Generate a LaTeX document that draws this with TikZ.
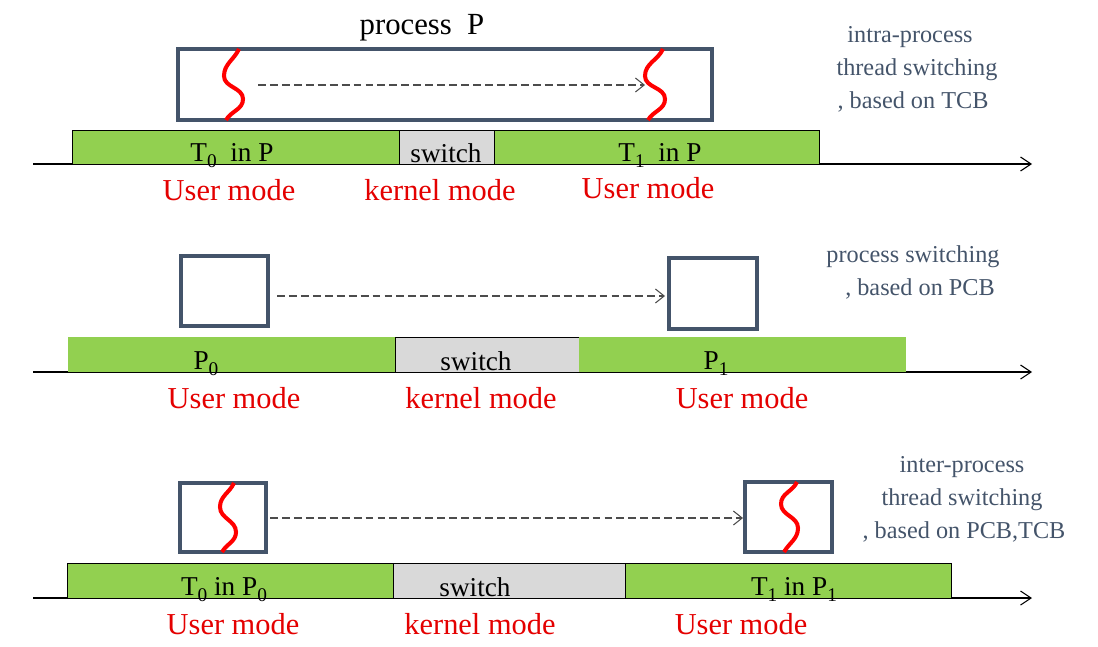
\documentclass[tikz,border=0pt]{standalone}
\usepackage{fontspec}
\setmainfont{Liberation Serif}
\usetikzlibrary{arrows.meta,fit}
\definecolor{slate}{RGB}{68,84,106}
\definecolor{barg}{RGB}{146,208,80}
\definecolor{swg}{RGB}{217,217,217}
\definecolor{redt}{RGB}{228,0,0}
\newcommand\lowsub[1]{\raisebox{-0.55ex}{\fontsize{11}{12}\selectfont #1}}
\begin{document}
\begin{tikzpicture}[x=0.02cm,y=-0.02cm,
 pbox/.style={draw=slate,line width=2.3pt,inner sep=0pt},
 ubar/.style={fill=barg,draw=black,line width=0.4pt,inner sep=0pt},
 ubarplain/.style={fill=barg,inner sep=0pt},
 sbar/.style={fill=swg,draw=black,line width=0.4pt,inner sep=0pt},
 bartxt/.style={font=\fontsize{15.5}{18}\selectfont,anchor=base,inner sep=0pt},
 modetxt/.style={font=\fontsize{17.3}{20}\selectfont,text=redt,anchor=base,inner sep=0pt},
 notetxt/.style={font=\fontsize{13.8}{17}\selectfont,text=slate,anchor=base,inner sep=0pt},
 titletxt/.style={font=\fontsize{17.5}{20}\selectfont,anchor=base,inner sep=0pt},
 thread/.style={draw=red,line width=2.3pt},
 jump/.style={draw=black!70,dash pattern=on 4.5pt off 2.3pt,line width=0.6pt,-{Straight Barb[length=5pt,width=8pt]}},
 axis/.style={draw=black,line width=0.6pt,-{Straight Barb[length=6pt,width=8pt]}}]
\useasboundingbox (0,0) rectangle (1098,646);

% ---------- Row 1 ----------
\coordinate (ax1s) at (33,164);
\coordinate (ax1e) at (1032,164);
\draw[axis] (ax1s) -- (ax1e);
\node[ubar,fit={(72,130) (399,164)}] (g1a) {};
\node[sbar,fit={(399,130) (494,164)}] (s1) {};
\node[ubar,fit={(494,130) (819,164)}] (g1b) {};
\node[pbox,fit={(178,49) (712,120)}] (P) {};
\node[titletxt] (ptitle) at (422,34) {process\ \ P};
\draw[thread] (239,49) to[out=245,in=90] (224,76) to[out=270,in=90] (243,99) to[out=270,in=60] (226,120);
\draw[thread] (663,49) to[out=245,in=90] (645,76) to[out=270,in=90] (665,99) to[out=270,in=60] (648,120);
\coordinate (j1s) at (258,85);
\coordinate (j1e) at (645,85);
\draw[jump] (j1s) -- (j1e);
\node[bartxt] (t1a) at (232,161) {T\lowsub{0}\ \ in P};
\node[bartxt] (t1s) at (446,162) {switch};
\node[bartxt] (t1b) at (660,161) {T\lowsub{1}\ \ in P};
\node[modetxt] (m1a) at (229,200) {User mode};
\node[modetxt] (m1k) at (440,200) {kernel mode};
\node[modetxt] (m1b) at (648,198) {User mode};
\node[notetxt] (n1a) at (910,42) {intra-process};
\node[notetxt] (n1b) at (917,75) {thread switching};
\node[notetxt] (n1c) at (913,108) {, based on TCB};

% ---------- Row 2 ----------
\coordinate (ax2s) at (33,372);
\coordinate (ax2e) at (1032,372);
\draw[axis] (ax2s) -- (ax2e);
\node[ubarplain,fit={(68,337) (395,372)}] (g2a) {};
\node[sbar,fit={(395,337) (579,372)}] (s2) {};
\node[ubarplain,fit={(579,337) (906,372)}] (g2b) {};
\node[pbox,fit={(181,256) (268,326)}] (B2a) {};
\node[pbox,fit={(669,258) (757,329)}] (B2b) {};
\coordinate (j2s) at (277,296);
\coordinate (j2e) at (665,296);
\draw[jump] (j2s) -- (j2e);
\node[bartxt] (t2a) at (206,369) {P\lowsub{0}};
\node[bartxt] (t2s) at (476,370) {switch};
\node[bartxt] (t2b) at (716,369) {P\lowsub{1}};
\node[modetxt] (m2a) at (234,408) {User mode};
\node[modetxt] (m2k) at (481,408) {kernel mode};
\node[modetxt] (m2b) at (742,408) {User mode};
\node[notetxt] (n2a) at (913,262) {process switching};
\node[notetxt] (n2b) at (920,295) {, based on PCB};

% ---------- Row 3 ----------
\coordinate (ax3s) at (33,598);
\coordinate (ax3e) at (1032,598);
\draw[axis] (ax3s) -- (ax3e);
\node[ubar,fit={(67,563) (393,598)}] (g3a) {};
\node[sbar,fit={(393,563) (625,598)}] (s3) {};
\node[ubar,fit={(625,563) (951,598)}] (g3b) {};
\node[pbox,fit={(180,483) (266,552)}] (B3a) {};
\node[pbox,fit={(745,482) (832,552)}] (B3b) {};
\draw[thread] (234,483) to[out=245,in=90] (220,507) to[out=270,in=90] (236,532) to[out=270,in=60] (222,552);
\draw[thread] (797,482) to[out=245,in=90] (781,504) to[out=270,in=90] (798,528) to[out=270,in=60] (784,552);
\coordinate (j3s) at (270,518);
\coordinate (j3e) at (743,518);
\draw[jump] (j3s) -- (j3e);
\node[bartxt] (t3a) at (224,595) {T\lowsub{0} in P\lowsub{0}};
\node[bartxt] (t3s) at (475,596) {switch};
\node[bartxt] (t3b) at (794,595) {T\lowsub{1} in P\lowsub{1}};
\node[modetxt] (m3a) at (233,634) {User mode};
\node[modetxt] (m3k) at (480,634) {kernel mode};
\node[modetxt] (m3b) at (741,634) {User mode};
\node[notetxt] (n3a) at (962,472) {inter-process};
\node[notetxt] (n3b) at (962,505) {thread switching};
\node[notetxt] (n3c) at (964,538) {, based on PCB,TCB};
\end{tikzpicture}
\end{document}
